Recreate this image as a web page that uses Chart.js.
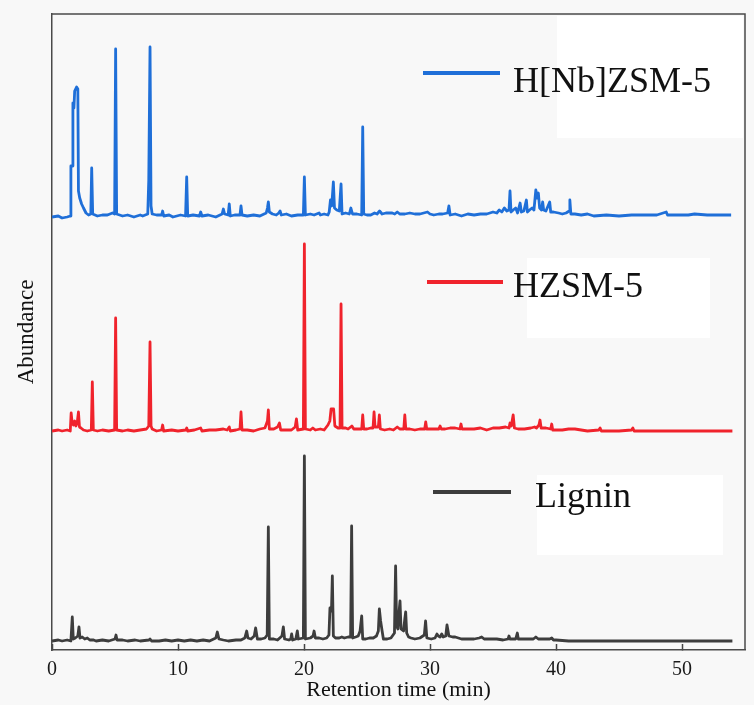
<!DOCTYPE html>
<html><head><meta charset="utf-8">
<script src="https://cdn.jsdelivr.net/npm/chart.js@4.4.1/dist/chart.umd.min.js"></script>
<style>html,body{margin:0;padding:0;background:#f8f8f8;} #wrap{width:754px;height:705px;position:relative;}</style>
</head><body><div id="wrap"><canvas id="c"></canvas></div>
<script>
// ---- data (retention time in min, abundance above each trace's own baseline) ----
const seriesNames = ['H[Nb]ZSM-5', 'HZSM-5', 'Lignin'];
const xTicks = [0, 10, 20, 30, 40, 50];

const hnbzsmTrace = [[0,-1],[0.5,0],[0.8,-2],[1.2,-1],[1.45,0],[1.5,50],[1.6,50],[1.66,113],[1.74,108],[1.8,125],[1.95,129],[2.05,127],[2.1,25],[2.2,18],[2.35,12],[2.5,8],[2.7,3],[2.9,1],[3.08,2],[3.15,48],[3.23,2],[3.6,0],[4.0,1],[4.4,1],[4.8,3],[4.97,2],[5.05,167],[5.13,2],[5.6,0],[6.0,1],[6.5,-1],[7.0,1],[7.2,0],[7.6,2],[7.68,36],[7.78,169],[7.86,10],[7.95,2],[8.3,1],[8.7,1],[8.78,5],[8.86,0],[9.3,1],[9.6,-1],[10.2,1],[10.6,0],[10.69,39],[10.77,0],[11.2,1],[11.7,0],[11.8,4],[11.9,0],[12.4,1],[13.0,-1],[13.5,2],[13.6,7],[13.7,2],[13.98,1],[14.07,12],[14.15,0],[14.5,1],[14.92,1],[15.0,10],[15.08,1],[15.5,0],[16.0,1],[16.5,0],[17.0,3],[17.1,8],[17.17,14],[17.25,4],[17.5,2],[17.8,1],[18.0,3],[18.1,5],[18.2,1],[18.6,2],[19.0,0],[19.5,1],[19.95,1],[20.03,39],[20.11,1],[20.5,2],[20.8,1],[21.2,3],[21.3,1],[21.6,2],[21.9,1],[22.0,4],[22.1,16],[22.2,10],[22.33,34],[22.42,8],[22.6,6],[22.8,5],[22.94,32],[23.02,2],[23.3,3],[23.6,2],[23.72,8],[23.85,2],[24.2,2],[24.58,1],[24.66,89],[24.74,2],[25.0,1],[25.3,1],[25.6,3],[25.8,2],[26.0,5],[26.2,2],[26.5,3],[27.0,3],[27.2,2],[27.4,4],[27.6,2],[28.0,2],[28.4,3],[28.8,2],[29.2,2],[29.5,3],[29.8,4],[30.0,2],[30.3,1],[30.7,2],[31.0,2],[31.4,3],[31.5,10],[31.6,1],[32.0,2],[32.5,0],[33.0,2],[33.5,1],[34.0,2],[34.5,2],[35.0,4],[35.3,3],[35.5,6],[35.7,4],[35.9,8],[36.1,5],[36.27,6],[36.35,25],[36.43,4],[36.6,6],[36.8,8],[36.95,3],[37.15,13],[37.25,4],[37.45,5],[37.65,16],[37.73,4],[37.9,6],[38.1,8],[38.25,6],[38.4,26],[38.5,18],[38.6,23],[38.7,8],[38.85,6],[38.94,14],[39.02,6],[39.2,5],[39.5,14],[39.58,4],[39.8,4],[40.2,3],[40.5,2],[40.8,3],[41.05,5],[41.1,16],[41.18,2],[41.5,2],[42.0,1],[42.5,2],[43.0,0],[44.0,1],[45.0,0],[46.0,1],[47.0,1],[48.0,1],[48.75,4],[48.85,1],[49.5,1],[50.5,1],[51.0,2],[52.0,1],[53.0,1],[53.9,1]];

const hzsmTrace = [[0,0],[0.5,1],[0.8,0],[1.2,1],[1.45,0],[1.52,18],[1.6,8],[1.7,6],[1.8,10],[1.9,5],[2.0,8],[2.1,19],[2.18,4],[2.3,3],[2.5,1],[2.8,0],[3.12,1],[3.2,49],[3.28,1],[3.6,0],[4.0,1],[4.5,0],[4.97,1],[5.05,113],[5.13,1],[5.6,0],[6.0,1],[6.5,0],[7.0,1],[7.5,2],[7.68,5],[7.78,89],[7.86,5],[7.95,2],[8.3,0],[8.7,1],[8.78,6],[8.86,0],[9.5,1],[10.0,0],[10.62,1],[10.69,3],[10.77,0],[11.3,1],[11.8,3],[11.9,0],[12.5,1],[13.0,1],[13.6,2],[13.9,1],[14.07,4],[14.15,0],[14.6,1],[14.92,2],[15.0,19],[15.08,1],[15.5,1],[16.0,0],[16.5,2],[16.9,3],[17.1,10],[17.17,21],[17.25,2],[17.6,2],[17.9,4],[18.05,8],[18.15,1],[18.6,1],[19.0,1],[19.3,4],[19.4,12],[19.5,1],[19.95,2],[20.03,187],[20.11,2],[20.5,1],[20.7,3],[20.9,1],[21.3,2],[21.6,1],[21.9,6],[22.05,10],[22.15,22],[22.35,22],[22.45,5],[22.7,3],[22.86,3],[22.94,127],[23.02,3],[23.3,3],[23.5,2],[23.8,5],[23.95,2],[24.3,2],[24.58,2],[24.66,16],[24.74,2],[25.0,2],[25.3,3],[25.48,3],[25.56,19],[25.64,4],[25.9,4],[25.98,16],[26.06,2],[26.4,1],[26.8,2],[27.1,1],[27.4,4],[27.6,2],[27.92,2],[28.0,16],[28.08,2],[28.4,2],[28.8,1],[29.2,2],[29.58,2],[29.66,9],[29.74,2],[30.2,2],[30.7,2],[30.8,5],[30.9,2],[31.2,2],[31.6,3],[32.0,3],[32.38,2],[32.46,7],[32.54,2],[33.0,2],[33.5,2],[34.0,3],[34.5,1],[35.0,3],[35.5,3],[36.0,4],[36.27,3],[36.35,8],[36.45,5],[36.6,16],[36.7,3],[37.0,2],[37.5,2],[38.0,3],[38.3,4],[38.45,3],[38.65,6],[38.73,11],[38.82,3],[39.2,3],[39.58,2],[39.66,7],[39.74,1],[40.2,1],[40.5,1],[41.0,2],[41.5,2],[42.0,1],[42.5,0],[43.4,1],[43.5,3],[43.6,0],[44.5,0],[45.0,0],[46.0,1],[46.1,3],[46.2,0],[47.0,0],[48.0,0],[49.5,0],[51.0,0],[52.5,0],[54.0,0]];

const ligninTrace = [[0,0],[0.5,1],[0.8,0],[1.2,1],[1.5,0],[1.61,24],[1.69,2],[1.85,3],[2.05,5],[2.14,14],[2.22,3],[2.4,4],[2.6,2],[2.8,3],[3.0,1],[3.3,1],[3.5,0],[4.0,1],[4.5,0],[5.0,2],[5.08,6],[5.16,1],[5.6,1],[6.0,0],[6.6,1],[7.0,0],[7.7,1],[7.78,2],[7.9,0],[8.5,0],[9.0,1],[9.5,0],[10.0,1],[10.5,0],[11.0,1],[11.5,0],[12.0,1],[12.5,0],[13.0,3],[13.12,9],[13.25,2],[13.6,1],[14.0,0],[14.6,1],[15.0,1],[15.3,3],[15.45,10],[15.55,3],[15.8,2],[16.05,5],[16.16,13],[16.3,2],[16.6,2],[16.9,3],[17.08,6],[17.17,114],[17.25,2],[17.6,2],[17.9,1],[18.25,5],[18.36,14],[18.46,2],[18.8,1],[18.95,2],[19.02,7],[19.1,1],[19.35,2],[19.47,10],[19.55,2],[19.95,3],[20.03,185],[20.11,2],[20.5,3],[20.72,5],[20.8,10],[20.9,3],[21.2,3],[21.5,2],[21.8,3],[21.98,6],[22.06,33],[22.18,30],[22.25,65],[22.33,5],[22.5,3],[22.8,3],[23.0,4],[23.2,3],[23.5,4],[23.7,4],[23.78,115],[23.86,3],[24.1,4],[24.3,5],[24.45,10],[24.58,25],[24.66,2],[24.9,2],[25.2,3],[25.5,3],[25.75,5],[25.9,10],[25.98,32],[26.08,20],[26.2,10],[26.3,2],[26.6,2],[26.9,3],[27.18,8],[27.27,75],[27.35,15],[27.45,12],[27.55,30],[27.62,40],[27.7,12],[27.9,10],[28.0,22],[28.07,29],[28.15,8],[28.3,4],[28.5,3],[28.8,2],[29.2,3],[29.55,6],[29.65,20],[29.75,3],[30.1,2],[30.4,3],[30.55,7],[30.66,5],[30.8,4],[30.93,7],[31.05,4],[31.25,5],[31.35,16],[31.5,5],[31.8,4],[32.0,4],[32.5,2],[33.0,2],[33.5,2],[33.9,3],[34.1,4],[34.3,2],[34.8,2],[35.3,2],[35.8,1],[36.2,2],[36.27,5],[36.35,2],[36.8,2],[36.93,8],[37.01,2],[37.5,2],[37.8,2],[38.2,2],[38.4,4],[38.6,2],[39.0,2],[39.5,2],[39.66,3],[39.8,1],[40.0,1],[41.0,0],[42.0,0],[43.0,0],[45.0,0],[47.0,0],[49.0,0],[51.0,0],[52.5,0],[54.0,0]];

// vertical offsets of each stacked trace (baseline positions on the shared abundance axis)
const traceOffsets = [434, 219, 9];
const traceColors = ['#1f6fd8', '#f0232c', '#3d3d3d'];
const traces = [hnbzsmTrace, hzsmTrace, ligninTrace];

const SERIF = '"Liberation Serif", "Times New Roman", serif';

const datasets = traces.map((tr, i) => ({
  label: seriesNames[i],
  data: tr.map(p => ({x: p[0], y: p[1] + traceOffsets[i]})),
  borderColor: traceColors[i],
  backgroundColor: traceColors[i],
  borderWidth: 2.8,
  borderJoinStyle: 'round',
  pointRadius: 0,
  tension: 0,
  fill: false
}));

// legend placement (pixel layout)
const legendLayout = [
  {box: [557, 16, 186, 122], line: [423, 500, 73], text: [513, 92]},
  {box: [527, 258, 183, 80], line: [427, 503, 282], text: [513, 297]},
  {box: [537, 475, 186, 80], line: [433, 511, 492], text: [535, 507]}
];

const inlineLegend = {
  id: 'inlineLegend',
  beforeDatasetsDraw(chart) {
    const ctx = chart.ctx;
    ctx.save();
    ctx.fillStyle = '#ffffff';
    legendLayout.forEach(l => ctx.fillRect(l.box[0], l.box[1], l.box[2], l.box[3]));
    ctx.restore();
  },
  afterDatasetsDraw(chart) {
    const ctx = chart.ctx;
    ctx.save();
    chart.data.datasets.forEach((ds, i) => {
      const l = legendLayout[i];
      ctx.strokeStyle = ds.borderColor;
      ctx.lineWidth = 4;
      ctx.beginPath();
      ctx.moveTo(l.line[0], l.line[2]);
      ctx.lineTo(l.line[1], l.line[2]);
      ctx.stroke();
      ctx.fillStyle = '#111111';
      ctx.font = '36px ' + SERIF;
      ctx.textBaseline = 'alphabetic';
      ctx.textAlign = 'left';
      ctx.fillText(ds.label, l.text[0], l.text[1]);
    });
    ctx.restore();
  }
};

const frame = {
  id: 'frame',
  afterDraw(chart) {
    const {ctx, chartArea: a} = chart;
    ctx.save();
    ctx.strokeStyle = '#4a4a4a';
    ctx.lineWidth = 1.5;
    ctx.beginPath();
    ctx.moveTo(a.left, a.top);
    ctx.lineTo(a.right, a.top);
    ctx.lineTo(a.right, a.bottom);
    ctx.stroke();
    ctx.restore();
  }
};

new Chart(document.getElementById('c'), {
  type: 'line',
  data: {datasets},
  plugins: [inlineLegend, frame],
  options: {
    responsive: true,
    maintainAspectRatio: false,
    animation: false,
    devicePixelRatio: 1,
    layout: {padding: {left: 0, right: 9, top: 14, bottom: 0}},
    plugins: {legend: {display: false}, tooltip: {enabled: false}},
    scales: {
      x: {
        type: 'linear', min: 0, max: 55,
        afterBuildTicks: s => { s.ticks = xTicks.map(v => ({value: v})); },
        ticks: {color: '#1a1a1a', font: {family: SERIF, size: 20}, padding: 14, maxRotation: 0, autoSkip: false},
        grid: {display: true, drawOnChartArea: false, drawTicks: true, tickLength: -6, tickColor: '#444', tickWidth: 1.5},
        border: {display: true, color: '#4a4a4a', width: 1.5},
        title: {display: true, text: 'Retention time (min)', color: '#111', font: {family: SERIF, size: 22}, padding: {top: 0, bottom: 2}},
        afterFit: s => { s.height = 55; }
      },
      y: {
        type: 'linear', min: 0, max: 636,
        ticks: {display: false},
        grid: {display: false, drawTicks: false},
        border: {display: true, color: '#4a4a4a', width: 1.5},
        title: {display: true, text: 'Abundance', color: '#111', font: {family: SERIF, size: 23}, padding: {top: 13, bottom: 0}},
        afterFit: s => { s.width = 52; }
      }
    }
  }
});
</script>
</body></html>
